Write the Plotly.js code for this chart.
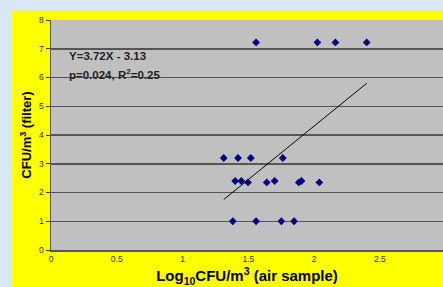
<!DOCTYPE html>
<html>
<head>
<meta charset="utf-8">
<script src="https://cdn.plot.ly/plotly-3.0.1.min.js"></script>
<style>
html,body{margin:0;padding:0;width:443px;height:287px;overflow:hidden;background:#dae7f7;}
#chart{position:absolute;left:12px;top:11px;width:431px;height:276px;}
</style>
</head>
<body>
<div id="chart"></div>
<script>
// Data
var logAir = [1.559, 2.025, 2.162, 2.400,
              1.313, 1.422, 1.519, 1.762,
              1.400, 1.447, 1.700, 1.904,
              1.498, 1.640, 1.884, 2.040,
              1.382, 1.559, 1.751, 1.848];
var filterCFU = [7.22, 7.22, 7.22, 7.22,
                 3.20, 3.20, 3.20, 3.20,
                 2.40, 2.40, 2.40, 2.40,
                 2.35, 2.35, 2.35, 2.35,
                 1.00, 1.00, 1.00, 1.00];
var slope = 3.72, intercept = -3.13;
var xTicks = [0, 0.5, 1, 1.5, 2, 2.5];
var yTicks = [0, 1, 2, 3, 4, 5, 6, 7, 8];
var statLines = ['Y=3.72X - 3.13', 'p=0.024, R<sup>2</sup>=0.25'];

var xmin = Math.min.apply(null, logAir), xmax = Math.max.apply(null, logAir);
var fitX = [xmin, xmax];
var fitY = fitX.map(function(v){ return slope * v + intercept; });

var traces = [
  {x: logAir, y: filterCFU, type: 'scatter', mode: 'markers',
   marker: {symbol: 'diamond', size: 6, color: '#000080'}, hoverinfo: 'none'},
  {x: fitX, y: fitY, type: 'scatter', mode: 'lines',
   line: {color: '#000000', width: 1}, hoverinfo: 'none'}
];

var annFont = {size: 11.5, color: '#222222', family: 'Liberation Sans, Arial, sans-serif'};

var layout = {
  width: 431, height: 276,
  margin: {l: 39, r: 0, t: 9, b: 37, pad: 0},
  paper_bgcolor: '#ffff00',
  plot_bgcolor: '#c0c0c0',
  showlegend: false,
  font: {family: 'Liberation Sans, Arial, sans-serif', color: '#333333'},
  xaxis: {
    range: [0, 2.98], tickvals: xTicks, ticktext: xTicks.map(String),
    showgrid: false, zeroline: false, showline: true, linecolor: '#555555', linewidth: 1.5,
    ticks: '', tickfont: {size: 8.5, color: '#333333'},
    title: {text: 'Log<sub>10</sub>CFU/m<sup>3</sup> (air sample)', standoff: 8,
            font: {size: 15, color: '#000000', family: 'Liberation Sans, Arial, sans-serif', weight: 'bold'}}
  },
  yaxis: {
    range: [0, 8], tickvals: yTicks, ticktext: yTicks.map(String),
    showgrid: true, gridcolor: '#555555', gridwidth: 1.5,
    zeroline: false, showline: true, linecolor: '#555555', linewidth: 1.5,
    ticks: 'outside', ticklen: 4, tickcolor: '#333333', tickfont: {size: 8.5, color: '#333333'},
    title: {text: 'CFU/m<sup>3</sup> (filter)', standoff: 4,
            font: {size: 13, color: '#000000', family: 'Liberation Sans, Arial, sans-serif', weight: 'bold'}}
  },
  annotations: [
    {xref: 'x', yref: 'y', x: 0.12, y: 6.74, xanchor: 'left', yanchor: 'middle',
     showarrow: false, text: '<b>' + statLines[0] + '</b>', font: annFont},
    {xref: 'x', yref: 'y', x: 0.12, y: 6.13, xanchor: 'left', yanchor: 'middle',
     showarrow: false, text: '<b>' + statLines[1] + '</b>', font: annFont}
  ]
};

Plotly.newPlot('chart', traces, layout, {staticPlot: true, displayModeBar: false});
</script>
</body>
</html>
